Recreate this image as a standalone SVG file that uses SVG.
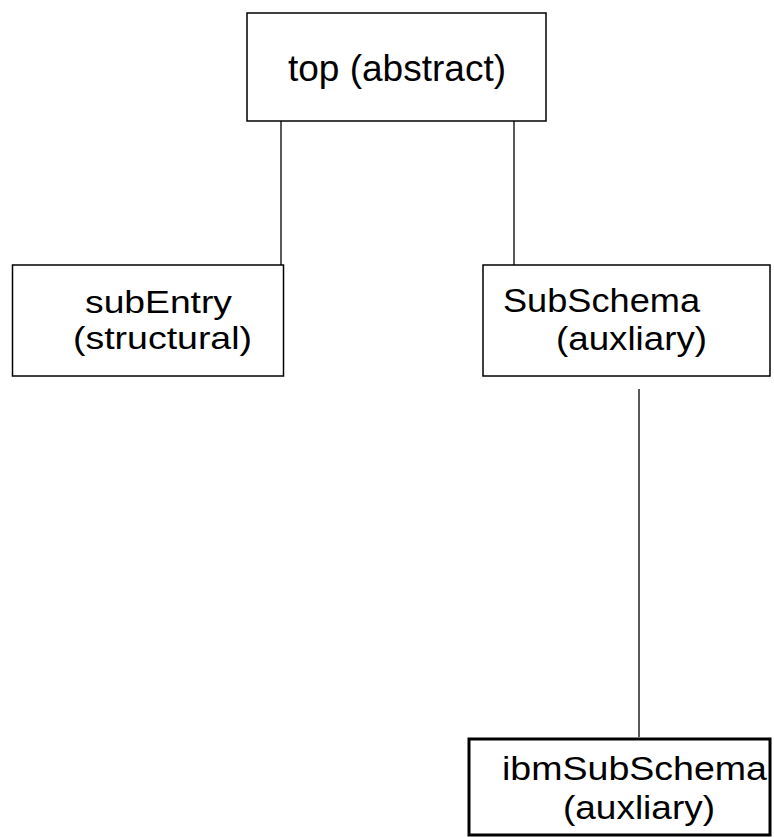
<svg xmlns="http://www.w3.org/2000/svg" width="774" height="837" viewBox="0 0 774 837">
<style>
.box{fill:#fff;stroke:#000;stroke-width:1.5}
.thick{stroke-width:3}
.conn{stroke:#000;stroke-width:1.3;fill:none}
text{font-family:"Liberation Sans",Arial,sans-serif;font-size:32px;fill:#000}
.t37{font-size:37px}
.t33{font-size:33px}
.t34{font-size:34px}
</style>
<rect width="774" height="837" fill="#fff"/>
<g id="connectors">
<line class="conn" x1="281" y1="121" x2="281" y2="265"/>
<line class="conn" x1="514" y1="121" x2="514" y2="265"/>
<line class="conn" x1="639" y1="389" x2="639" y2="737"/>
</g>
<g id="top">
<rect class="box" x="247" y="13" width="299" height="108"/>
<text class="t37" x="288" y="81" textLength="218" lengthAdjust="spacingAndGlyphs">top (abstract)</text>
</g>
<g id="subEntry">
<rect class="box" x="12.5" y="265" width="271" height="111"/>
<text x="85" y="313" textLength="147" lengthAdjust="spacingAndGlyphs">subEntry</text>
<text x="73" y="349" textLength="179" lengthAdjust="spacingAndGlyphs">(structural)</text>
</g>
<g id="SubSchema">
<rect class="box" x="483" y="265" width="287" height="111"/>
<text class="t33" x="503" y="312" textLength="197" lengthAdjust="spacingAndGlyphs">SubSchema</text>
<text class="t33" x="556" y="350" textLength="151" lengthAdjust="spacingAndGlyphs">(auxliary)</text>
</g>
<g id="ibmSubSchema">
<rect class="box thick" x="469" y="739" width="301" height="96"/>
<text class="t34" x="502" y="780" textLength="265" lengthAdjust="spacingAndGlyphs">ibmSubSchema</text>
<text class="t34" x="563" y="819" textLength="152" lengthAdjust="spacingAndGlyphs">(auxliary)</text>
</g>
</svg>
